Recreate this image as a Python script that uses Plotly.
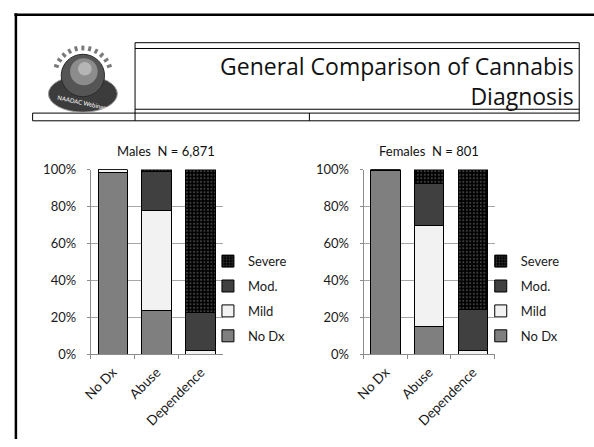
import math
import plotly.graph_objects as go

W, H = 594, 447

categories = ["No Dx", "Abuse", "Dependence"]
series_names = ["No Dx", "Mild", "Mod.", "Severe"]

males_nodx = [0.985, 0.239, 0.0]
males_mild = [0.015, 0.539, 0.02]
males_mod = [0.0, 0.212, 0.206]
males_severe = [0.0, 0.01, 0.774]

females_nodx = [0.995, 0.15, 0.0]
females_mild = [0.005, 0.546, 0.02]
females_mod = [0.0, 0.23, 0.222]
females_severe = [0.0, 0.074, 0.758]

y_ticks = [0, 0.2, 0.4, 0.6, 0.8, 1.0]
y_tick_labels = ["0%", "20%", "40%", "60%", "80%", "100%"]

title_lines = ["General Comparison of Cannabis", "Diagnosis"]
males_title = "Males  N = 6,871"
females_title = "Females  N = 801"
logo_text = "NAADAC Webinars"

FONT = "Lato, 'Open Sans', sans-serif"
TITLE_FONT = "'Open Sans', Lato, sans-serif"


def px(x):
    return x / W


def py(y):
    return 1 - y / H


colors = {
    "No Dx": "#7f7f7f",
    "Mild": "#f2f2f2",
    "Mod.": "#404040",
    "Severe": "#000000",
}
ranks = {"Severe": 1, "Mod.": 2, "Mild": 3, "No Dx": 4}

fig = go.Figure()

male_data = [males_nodx, males_mild, males_mod, males_severe]
female_data = [females_nodx, females_mild, females_mod, females_severe]

for xa, ya, leg, data, pref in [("x", "y", "legend", male_data, "m"),
                                ("x2", "y2", "legend2", female_data, "f")]:
    for name, vals in zip(series_names, data):
        marker = dict(color=colors[name], line=dict(color="#000000", width=1))
        if name == "Severe":
            marker["pattern"] = dict(shape=".", fgcolor="#7a7a7a", size=3.5, solidity=0.3)
        fig.add_trace(go.Bar(
            x=categories, y=vals, name=name, marker=marker,
            xaxis=xa, yaxis=ya, legend=leg,
            legendgroup=pref + name, legendrank=ranks[name],
            hoverinfo="skip",
        ))

axis_common_y = dict(
    range=[0, 1], tickvals=y_ticks, ticktext=y_tick_labels,
    showgrid=True, gridcolor="#a6a6a6", gridwidth=1,
    showline=True, linecolor="#8c8c8c", linewidth=1,
    ticks="outside", ticklen=3, tickcolor="#8c8c8c",
    ticklabelstandoff=8,
    tickfont=dict(family=FONT, size=13, color="#1a1a1a"),
    zeroline=False, fixedrange=True,
)
axis_common_x = dict(
    showline=True, linecolor="#8c8c8c", linewidth=1,
    ticks="outside", ticklen=4, tickcolor="#8c8c8c", tickson="boundaries",
    ticklabelstandoff=4,
    tickangle=-45, tickfont=dict(family=FONT, size=13.5, color="#1a1a1a"),
    showgrid=False, fixedrange=True,
)

ydom = [py(359), py(167.5)]

legend_common = dict(xanchor="left", yanchor="top",
                     traceorder="grouped", tracegroupgap=5, itemwidth=30,
                     font=dict(family=FONT, size=13, color="#1a1a1a"),
                     bgcolor="rgba(0,0,0,0)")

fig.update_layout(
    width=W, height=H,
    margin=dict(l=0, r=0, t=0, b=0),
    paper_bgcolor="white", plot_bgcolor="white",
    barmode="stack", bargap=0.33,
    showlegend=True,
    xaxis=dict(domain=[px(83), px(217)], anchor="y", **axis_common_x),
    yaxis=dict(domain=ydom, anchor="x", **axis_common_y),
    xaxis2=dict(domain=[px(360), px(493)], anchor="y2", **axis_common_x),
    yaxis2=dict(domain=ydom, anchor="x2", **axis_common_y),
    legend=dict(x=px(202), y=py(247), **legend_common),
    legend2=dict(x=px(479), y=py(247), **legend_common),
)

shapes = []


def line(x0, y0, x1, y1, w=1, c="#000000"):
    shapes.append(dict(type="line", xref="paper", yref="paper",
                       x0=px(x0), y0=py(y0), x1=px(x1), y1=py(y1),
                       line=dict(color=c, width=w)))


# slide frame
line(5.5, 7, 594, 7, w=2.5)
line(7, 5.5, 7, 447, w=2.5)

# title box
line(128, 36, 579, 36)
line(128, 42, 579, 42)
line(128, 105, 579, 105)
line(24, 109, 579, 109)
line(24, 117, 579, 117)
line(128, 36, 128, 117)
line(579, 36, 579, 117)
line(24, 109, 24, 117)
line(305, 109, 305, 117)

# logo approximation
shapes.append(dict(type="circle", xref="paper", yref="paper",
                   x0=px(40), x1=px(110), y0=py(108), y1=py(70),
                   fillcolor="#3c3c3c", line=dict(color="#9a9a9a", width=1)))
shapes.append(dict(type="circle", xref="paper", yref="paper",
                   x0=px(53), x1=px(97), y0=py(92), y1=py(48),
                   fillcolor="#555555", line=dict(color="#2a2a2a", width=1)))
shapes.append(dict(type="circle", xref="paper", yref="paper",
                   x0=px(62), x1=px(90), y0=py(80), y1=py(52),
                   fillcolor="#8c8c8c", line=dict(width=0)))
shapes.append(dict(type="circle", xref="paper", yref="paper",
                   x0=px(70), x1=px(84), y0=py(70), y1=py(56),
                   fillcolor="#b5b5b5", line=dict(width=0)))
for i in range(11):
    a = math.radians(160 - i * 14)
    cx, cy = 75, 70
    r0, r1 = 26, 31
    line(cx + r0 * math.cos(a), cy - r0 * math.sin(a),
         cx + r1 * math.cos(a), cy - r1 * math.sin(a), w=3, c="#7a7a7a")

annotations = [
    dict(text=title_lines[0] + "<br>" + title_lines[1], xref="paper", yref="paper",
         x=px(576), y=py(76), xanchor="right", yanchor="middle", align="right",
         showarrow=False,
         font=dict(family=TITLE_FONT, size=23, color="#111111")),
    dict(text=males_title, xref="paper", yref="paper", x=px(159), y=py(148),
         xanchor="center", yanchor="middle", showarrow=False,
         font=dict(family=FONT, size=13, color="#111111")),
    dict(text=females_title, xref="paper", yref="paper", x=px(426), y=py(148),
         xanchor="center", yanchor="middle", showarrow=False,
         font=dict(family=FONT, size=13, color="#111111")),
    dict(text=logo_text, xref="paper", yref="paper", x=px(75), y=py(98),
         xanchor="center", yanchor="middle", showarrow=False, textangle=12,
         font=dict(family=FONT, size=6, color="#ffffff")),
]

fig.update_layout(shapes=shapes, annotations=annotations)

fig.write_html("out.html", config={"displayModeBar": False},
               post_script="document.body.style.margin='0';")
